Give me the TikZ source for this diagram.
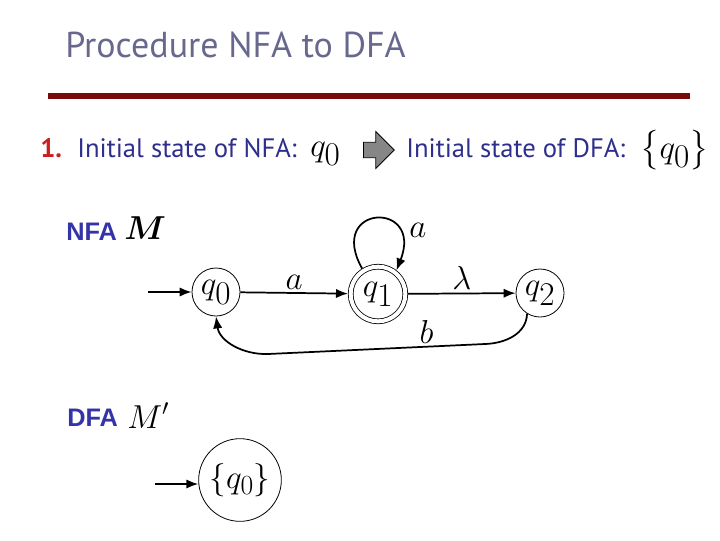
\documentclass[tikz,border=0pt]{standalone}
\usepackage{amsmath}
\usepackage{fontspec}
\setmainfont{PT Sans}
\newfontfamily\titlefont{PT Sans}
\newfontfamily\bodyfont{PT Sans}
\newfontfamily\tagfont{Liberation Sans}
\usepackage{tikz}
\usetikzlibrary{arrows.meta,positioning,calc,shapes.arrows}
\definecolor{titlegray}{HTML}{68688E}
\definecolor{textblue}{HTML}{2E2E8C}
\definecolor{tagblue}{HTML}{3434A8}
\definecolor{rulered}{HTML}{7A0A0A}
\definecolor{numred}{HTML}{CC1F1F}
\tikzset{
  title/.style={anchor=base west, inner sep=0pt, text=titlegray, font=\titlefont\fontsize{27}{30}\selectfont},
  lead/.style={anchor=base west, inner sep=0pt, text=textblue, font=\bodyfont\fontsize{20}{22}\selectfont},
  tag/.style={anchor=base west, inner sep=0pt, text=tagblue, font=\tagfont\bfseries\fontsize{19}{21}\selectfont},
  sym/.style={anchor=base west, inner sep=0pt, font=\fontsize{33}{36}\selectfont},
  machine/.style={anchor=base west, inner sep=0pt, font=\fontsize{23}{25}\selectfont},
  state/.style={draw, circle, line width=0.6pt, minimum size=36pt, inner sep=0pt,
                font=\fontsize{34}{36}\selectfont},
  accept/.style={state, double, double distance=3pt, minimum size=41pt, outer sep=2pt},
  flow/.style={-{Latex[length=9pt,width=7pt]}, line width=1.3pt},
  lbl/.style={font=\fontsize{24}{26}\selectfont, inner sep=1pt},
  blockarrow/.style={single arrow, draw=black, fill=gray!95, line width=0.6pt,
                     minimum height=23pt, inner sep=5.5pt, single arrow head extend=8pt},
}
\begin{document}
\begin{tikzpicture}[x=0.75pt, y=-0.75pt]
\useasboundingbox (0,0) rectangle (720,540);
% heading
\node[title] (head) at (65,57) {Procedure NFA to DFA};
\draw[rulered, line width=4pt] (48,96) -- (690,96);
% step 1
\node[anchor=base west, inner sep=0pt, text=numred, font=\bodyfont\bfseries\fontsize{20}{22}\selectfont] (num) at (40,157) {1.};
\node[lead] (nfainit) at (77,157) {Initial state of NFA:};
\node[sym] (qa) at (310,156) {$q_0$};
\node[blockarrow] (go) at (375,150) {};
\node[lead] (dfainit) at (406,157) {Initial state of DFA:};
\node[sym] (qb) at (640,158) {$\bigl\{q_0\bigr\}$};
% NFA M
\node[tag] (nfa) at (66,240) {NFA};
\node[machine] (m) at (124,239) {$\boldsymbol{M}$};
\node[state] (q0) at (216,292) {$q_0$};
\node[accept] (q1) at (378,294) {$q_1$};
\node[state] (q2) at (540,293) {$q_2$};
\coordinate (s0) at (148,292);
\draw[flow] (s0) -- (q0);
\draw[flow] (q0) -- node[lbl, above=1pt] {$a$} (q1);
\draw[flow] (q1) -- node[lbl, above=1pt] {$\lambda$} (q2);
\draw[flow] (q1.122) .. controls (326,204) and (424,200) .. (q1.52);
\node[lbl] (aloop) at (418,230) {$a$};
\draw[flow] (q2.-122) to[out=-92,in=2] (485,344) -- node[lbl, pos=0.27, above=1pt] {$b$} (268,354) to[out=182,in=-82] (q0.-90);
% DFA M'
\node[tag] (dfa) at (67,426) {DFA};
\node[machine] (mp) at (127,428) {$M'$};
\node[state, minimum size=62pt, font=\fontsize{28}{30}\selectfont] (d0) at (240,480) {$\{q_0\}$};
\coordinate (s1) at (155,484);
\draw[flow] (s1) -- (s1 -| d0.west);
\end{tikzpicture}
\end{document}
